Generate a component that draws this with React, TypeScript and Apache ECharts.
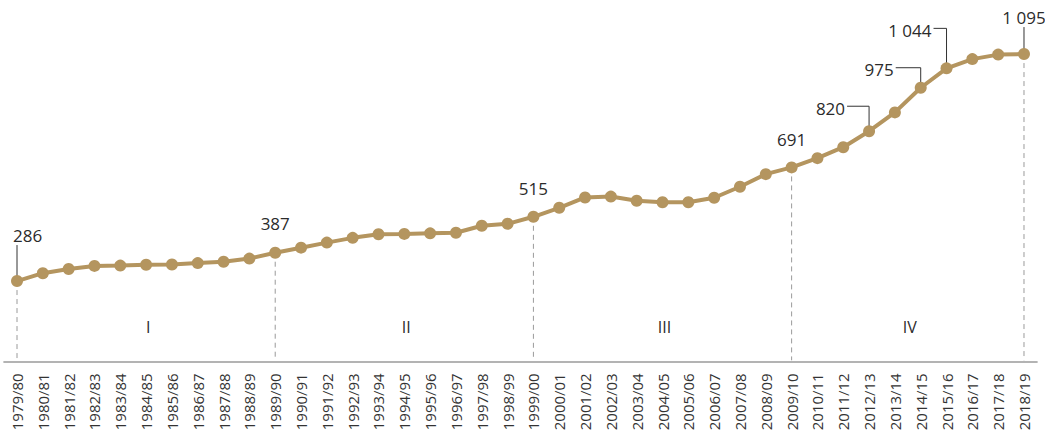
import React, { useEffect, useRef } from "react";
import * as echarts from "echarts";

const categories = [
  "1979/80", "1980/81", "1981/82", "1982/83", "1983/84", "1984/85", "1985/86", "1986/87", "1987/88", "1988/89",
  "1989/90", "1990/91", "1991/92", "1992/93", "1993/94", "1994/95", "1995/96", "1996/97", "1997/98", "1998/99",
  "1999/00", "2000/01", "2001/02", "2002/03", "2003/04", "2004/05", "2005/06", "2006/07", "2007/08", "2008/09",
  "2009/10", "2010/11", "2011/12", "2012/13", "2013/14", "2014/15", "2015/16", "2016/17", "2017/18", "2018/19",
];

const values = [
  286, 314, 329, 340, 341, 344, 345, 350, 355, 366,
  387, 405, 423, 440, 453, 454, 456, 458, 483, 490,
  515, 547, 584, 587, 572, 567, 567, 583, 622, 667,
  691, 724, 763, 820, 887, 975, 1044, 1077, 1093, 1095,
];

const phaseBoundaries = [0, 10, 20, 30, 39];
const phaseNames = ["I", "II", "III", "IV"];
const labeledIdx = [0, 10, 20, 30, 33, 35, 36, 39];

// annotation layout (pixel offsets of labels relative to their points)
const labelLayout = [
  { kind: "stem", len: 36, align: "left", tx: -4 },
  { kind: "plain", gap: 29 },
  { kind: "plain", gap: 28 },
  { kind: "plain", gap: 28 },
  { kind: "elbow", len: 25, arm: 22 },
  { kind: "elbow", len: 20, arm: 25 },
  { kind: "elbow", len: 40, arm: 13 },
  { kind: "stem", len: 27, align: "center", tx: 0 },
];

const LINE_COLOR = "#b4955f";
const TEXT_COLOR = "#2b2b2b";
const FONT = "'Open Sans', 'Noto Sans', sans-serif";

function fmt(v: number): string {
  return String(v).replace(/\B(?=(\d{3})+(?!\d))/g, " ");
}

export default function App() {
  const ref = useRef<HTMLDivElement>(null);
  useEffect(() => {
    if (!ref.current) return;
    const chart = echarts.init(ref.current, undefined, { renderer: "svg" });
    chart.setOption({
      animation: false,
      grid: {
        left: 4.1,
        right: 8.1,
        top: 24.6,
        bottom: 70.7,
        containLabel: false,
        outerBoundsMode: "none",
      },
      xAxis: {
        type: "category",
        data: categories,
        boundaryGap: true,
        axisLine: { show: true, lineStyle: { color: "#b3b3b3", width: 2 } },
        axisTick: { show: false },
        axisLabel: {
          rotate: 90,
          interval: 0,
          margin: 12,
          color: "#333",
          fontSize: 15,
          fontFamily: FONT,
        },
        splitLine: { show: false },
      },
      yAxis: {
        type: "value",
        min: 0,
        max: 1200,
        show: false,
        splitLine: { show: false },
      },
      series: [
        {
          type: "custom",
          z: 1,
          silent: true,
          clip: false,
          data: phaseBoundaries.map((i) => [i, values[i]]),
          renderItem: (params: any, api: any) => {
            const p = api.coord([api.value(0), api.value(1)]);
            const b = api.coord([api.value(0), 0]);
            return {
              type: "line",
              shape: { x1: p[0], y1: p[1], x2: b[0], y2: b[1] - 1 },
              style: { stroke: "#9a9a9a", lineWidth: 1, lineDash: [5, 4] },
            };
          },
        },
        {
          type: "custom",
          z: 1,
          silent: true,
          clip: false,
          data: labeledIdx.map((i) => [i, values[i]]),
          renderItem: (params: any, api: any) => {
            const v = api.value(1);
            const p = api.coord([api.value(0), v]);
            const L: any = labelLayout[params.dataIndex];
            const textStyle = {
              text: fmt(v),
              fill: TEXT_COLOR,
              fontSize: 17,
              fontFamily: FONT,
            };
            const lineStyle = { stroke: "#333", lineWidth: 1, fill: null };
            if (L.kind === "plain") {
              return {
                type: "text",
                x: p[0],
                y: p[1] - L.gap,
                style: { ...textStyle, align: "center", verticalAlign: "middle" },
              };
            }
            if (L.kind === "stem") {
              return {
                type: "group",
                children: [
                  {
                    type: "line",
                    shape: { x1: p[0], y1: p[1], x2: p[0], y2: p[1] - L.len },
                    style: lineStyle,
                  },
                  {
                    type: "text",
                    x: p[0] + L.tx,
                    y: p[1] - L.len - 1,
                    style: { ...textStyle, align: L.align, verticalAlign: "bottom" },
                  },
                ],
              };
            }
            const top = p[1] - L.len;
            return {
              type: "group",
              children: [
                {
                  type: "polyline",
                  shape: { points: [[p[0], p[1]], [p[0], top], [p[0] - L.arm, top]] },
                  style: lineStyle,
                },
                {
                  type: "text",
                  x: p[0] - L.arm - 2,
                  y: top + 2,
                  style: { ...textStyle, align: "right", verticalAlign: "middle" },
                },
              ],
            };
          },
        },
        {
          type: "custom",
          z: 1,
          silent: true,
          clip: false,
          data: phaseNames.map((n, i) => [phaseBoundaries[i], 0]),
          renderItem: (params: any, api: any) => {
            const i = params.dataIndex;
            const a = api.coord([phaseBoundaries[i], 0]);
            const b = api.coord([phaseBoundaries[i + 1], 0]);
            return {
              type: "text",
              x: (a[0] + b[0]) / 2 + 2,
              y: a[1] - 34,
              style: {
                text: phaseNames[i],
                fill: TEXT_COLOR,
                fontSize: 16,
                fontFamily: FONT,
                align: "center",
                verticalAlign: "middle",
              },
            };
          },
        },
        {
          type: "line",
          z: 3,
          data: values,
          symbol: "circle",
          symbolSize: 12,
          showAllSymbol: true,
          lineStyle: { color: LINE_COLOR, width: 4 },
          itemStyle: { color: LINE_COLOR },
          label: { show: false },
          silent: true,
        },
      ],
    });
    return () => chart.dispose();
  }, []);
  return (
    <div
      ref={ref}
      style={{ position: "absolute", left: 0, top: 0, width: 1045, height: 432, background: "#fff" }}
    />
  );
}
